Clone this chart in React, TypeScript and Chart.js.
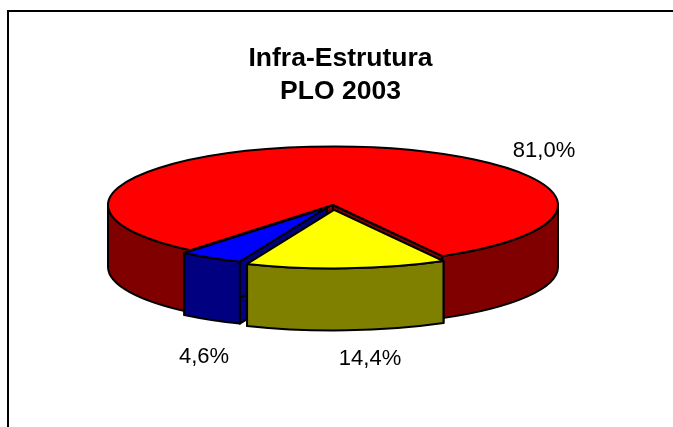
import React, { useEffect, useRef } from "react";
import { Chart, registerables } from "chart.js";

Chart.register(...registerables);

const titleLines = ["Infra-Estrutura", "PLO 2003"];
const categories = ["81,0%", "14,4%", "4,6%"];
const seriesValues = [81.0, 14.4, 4.6];
const topColors = ["#FF0000", "#FFFF00", "#0000FF"];
const wallColors = ["#800000", "#808000", "#000080"];
const explode = [0, 19, 12];

const CENTER_X = 333;
const CENTER_Y = 205;
const RADIUS = 225;
const SQUASH = 0.26;
const DEPTH = 62;
const LINE = 2;
const DRAW_ORDER = [0, 2, 1];
const LABEL_POS = [
  [544, 151],
  [370, 359],
  [204, 357],
];

function pie3d(chart: any, meta: any) {
  const ctx: CanvasRenderingContext2D = chart.ctx;
  for (const i of DRAW_ORDER) {
    const arc = meta.data[i];
    const a0 = arc.startAngle;
    const a1 = arc.endAngle;
    const mid = (a0 + a1) / 2;
    const off = explode[i];
    const cx = CENTER_X + Math.cos(mid) * off;
    const cy = CENTER_Y + Math.sin(mid) * off * SQUASH;
    const px = (a: number) => cx + Math.cos(a) * RADIUS;
    const py = (a: number) => cy + Math.sin(a) * RADIUS * SQUASH;

    ctx.save();
    ctx.lineWidth = LINE;
    ctx.lineJoin = "round";
    ctx.strokeStyle = "#000";
    ctx.fillStyle = wallColors[i];

    // radial cut faces
    for (const a of [a0, a1]) {
      ctx.beginPath();
      ctx.moveTo(cx, cy);
      ctx.lineTo(px(a), py(a));
      ctx.lineTo(px(a), py(a) + DEPTH);
      ctx.lineTo(cx, cy + DEPTH);
      ctx.closePath();
      ctx.fill();
      ctx.stroke();
    }

    // outer rim, front half only
    for (let k = -1; k <= 2; k++) {
      const s = Math.max(a0, 2 * Math.PI * k);
      const e = Math.min(a1, Math.PI + 2 * Math.PI * k);
      if (e <= s) continue;
      ctx.beginPath();
      ctx.ellipse(cx, cy, RADIUS, RADIUS * SQUASH, 0, s, e);
      ctx.lineTo(px(e), py(e) + DEPTH);
      ctx.ellipse(cx, cy + DEPTH, RADIUS, RADIUS * SQUASH, 0, e, s, true);
      ctx.closePath();
      ctx.fill();
      ctx.stroke();
    }
    ctx.restore();

    // top face: the library's own arc under a squash transform
    const fix = 1 - Math.sin(Math.min(Math.PI, a1 - a0));
    const savedR = arc.outerRadius;
    arc.outerRadius = savedR - (off * fix);
    ctx.save();
    ctx.translate(CENTER_X, CENTER_Y);
    ctx.scale(1, SQUASH);
    ctx.translate(-arc.x, -arc.y);
    arc.draw(ctx);
    ctx.restore();
    arc.outerRadius = savedR;

    ctx.save();
    ctx.lineWidth = LINE;
    ctx.lineJoin = "round";
    ctx.strokeStyle = "#000";
    ctx.beginPath();
    ctx.moveTo(cx, cy);
    ctx.ellipse(cx, cy, RADIUS, RADIUS * SQUASH, 0, a0, a1);
    ctx.closePath();
    ctx.stroke();
    ctx.restore();
  }

  ctx.save();
  ctx.fillStyle = "#000";
  ctx.font = "22px 'Liberation Sans', Arial, sans-serif";
  ctx.textAlign = "center";
  ctx.textBaseline = "middle";
  categories.forEach((t, i) => ctx.fillText(t, LABEL_POS[i][0], LABEL_POS[i][1]));
  ctx.restore();
}

const pie3dPlugin = {
  id: "pie3d",
  beforeDraw(chart: any) {
    const ctx: CanvasRenderingContext2D = chart.ctx;
    ctx.save();
    ctx.strokeStyle = "#000";
    ctx.lineWidth = 2;
    ctx.beginPath();
    ctx.moveTo(8, chart.height);
    ctx.lineTo(8, 11);
    ctx.lineTo(chart.width, 11);
    ctx.stroke();
    ctx.restore();
  },
  beforeDatasetDraw(chart: any, args: any) {
    pie3d(chart, args.meta);
    return false;
  },
};

export default function App() {
  const ref = useRef<HTMLCanvasElement>(null);
  useEffect(() => {
    const chart = new Chart(ref.current as HTMLCanvasElement, {
      type: "pie",
      data: {
        labels: categories,
        datasets: [
          {
            data: seriesValues,
            backgroundColor: topColors,
            borderWidth: 0,
            offset: explode.map((v) => v * 4),
            radius: RADIUS,
          } as any,
        ],
      },
      options: {
        animation: false,
        responsive: false,
        rotation: 219.3,
        layout: { padding: { left: 8 } },
        plugins: {
          legend: { display: false },
          tooltip: { enabled: false },
          title: {
            display: true,
            text: titleLines,
            color: "#000",
            font: { family: "'Liberation Sans', Arial, sans-serif", size: 26.5, weight: "bold", lineHeight: 1.25 },
            padding: { top: 42, bottom: 10 },
          },
        },
      },
      plugins: [pie3dPlugin as any],
    });
    return () => chart.destroy();
  }, []);
  return (
    <canvas
      ref={ref}
      width={673}
      height={427}
      style={{ position: "fixed", left: 0, top: 0, display: "block", background: "#fff" }}
    />
  );
}
